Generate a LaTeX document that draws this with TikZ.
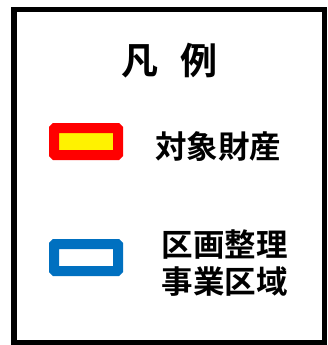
\documentclass[tikz,border=0pt]{standalone}
\usepackage{fontspec}
\newfontfamily\cjk[BoldFont={Noto Sans CJK JP Bold}]{Noto Sans CJK JP}
\usetikzlibrary{positioning}
\definecolor{zoneblue}{HTML}{0070C0}

\begin{document}
\begin{tikzpicture}[x=1pt, y=-1pt, thick]

	\tikzstyle{frame}=[draw=black, line width=5.5pt]
	\tikzstyle{keybox}=[rectangle, rounded corners=1pt, line width=10pt, minimum width=64pt, minimum height=27pt, inner sep=0pt]
	\tikzstyle{label}=[text=black, font=\cjk\bfseries, inner sep=0pt, align=center]
	\useasboundingbox (0,0) rectangle (327,345);
	\draw[frame] (14,9.5) rectangle (324.5,342.5);

	\node[label, font=\cjk\bfseries\fontsize{37}{37}\selectfont] (title) at (169.5,60.5) {凡\hspace{22pt}例};

	\node[keybox, draw=red, fill=yellow] (prop) at (86,141.5) {};
	\node[label, font=\cjk\bfseries\fontsize{31.5}{37}\selectfont] (propt) at (218,146.5) {対象財産};

	\node[keybox, draw=zoneblue, fill=white] (zone) at (86,257.5) {};
	\node[label, font=\cjk\bfseries\fontsize{31.5}{37}\selectfont] (zonet) at (224.5,263.5) {区画整理\\事業区域};

\end{tikzpicture}
\end{document}
